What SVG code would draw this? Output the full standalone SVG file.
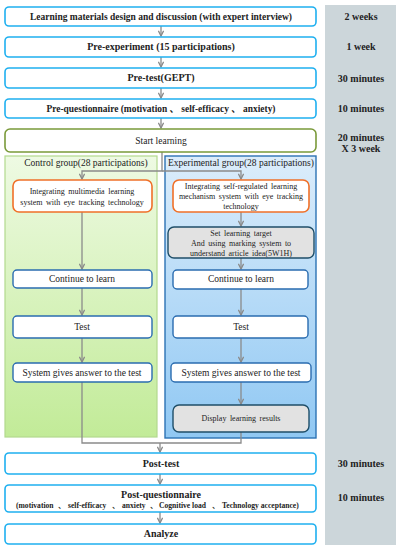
<svg xmlns="http://www.w3.org/2000/svg" width="400" height="550" viewBox="0 0 400 550">
<defs>
<linearGradient id="gGreen" x1="0" y1="0" x2="0" y2="1"><stop offset="0" stop-color="#eefae3"/><stop offset="1" stop-color="#c2eb98"/></linearGradient>
<linearGradient id="gBlue" x1="0" y1="0" x2="0" y2="1"><stop offset="0" stop-color="#dcedfb"/><stop offset="1" stop-color="#90c8f3"/></linearGradient>
<marker id="ah" viewBox="0 0 10 10" refX="9" refY="5" markerWidth="5" markerHeight="5" orient="auto"><path d="M1,1 L9,5 L1,9" fill="none" stroke="#8a8a8a" stroke-width="2"/></marker>
</defs>
<style>
.top{fill:#fff;stroke:#1fb0f0;stroke-width:1.6}
.start{fill:#fff;stroke:#7a9a3a;stroke-width:1.6}
.orange{fill:#fff;stroke:#f07028;stroke-width:1.6}
.wb{fill:#fff;stroke:#2a6cb0;stroke-width:1.4}
.gb{fill:#e2e2e2;stroke:#1f4e68;stroke-width:1.4}
.tb{font-family:"Liberation Serif","Times New Roman","Noto Sans CJK SC",serif;font-weight:bold;font-size:10px;fill:#222;text-anchor:middle}
.tq{font-family:"Liberation Serif","Times New Roman","Noto Sans CJK SC",serif;font-weight:bold;font-size:7.6px;fill:#222;text-anchor:start}
.tr{font-family:"Liberation Serif","Times New Roman","Noto Sans CJK SC",serif;font-size:9.5px;fill:#222;text-anchor:middle}
.ts{font-family:"Liberation Serif","Times New Roman","Noto Sans CJK SC",serif;font-size:8px;fill:#222;text-anchor:middle;word-spacing:1.5px}
.time{font-family:"Liberation Serif","Times New Roman",serif;font-weight:bold;font-size:10px;fill:#222;text-anchor:middle}
.conn{fill:none;stroke:#8a8a8a;stroke-width:1.3}
</style>
<rect id="timeline" x="325" y="5" width="71" height="540" fill="#ccd6da"/>
<g id="times">
<text class="time" x="361" y="20">2 weeks</text>
<text class="time" x="361" y="50">1 week</text>
<text class="time" x="361" y="82">30 minutes</text>
<text class="time" x="361" y="112">10 minutes</text>
<text class="time" x="361" y="141">20 minutes</text>
<text class="time" x="361" y="152">X 3 week</text>
<text class="time" x="361" y="467">30 minutes</text>
<text class="time" x="361" y="501">10 minutes</text>
</g>
<g id="control-panel"><rect x="5" y="156" width="152" height="281" fill="url(#gGreen)" stroke="#b2d98e" stroke-width="1.2"/>
<text class="tr" x="86" y="166" font-size="10">Control group(28 participations)</text></g>
<g id="exp-panel"><rect x="165" y="156" width="151" height="282" fill="url(#gBlue)" stroke="#2c72b4" stroke-width="1.4"/>
<text class="tr" x="241" y="166" font-size="10" textLength="146" lengthAdjust="spacingAndGlyphs">Experimental  group(28 participations)</text></g>
<g id="connectors">
<line class="conn" x1="161" y1="26" x2="161" y2="36" marker-end="url(#ah)"/>
<line class="conn" x1="161" y1="57" x2="161" y2="67" marker-end="url(#ah)"/>
<line class="conn" x1="161" y1="88" x2="161" y2="98" marker-end="url(#ah)"/>
<line class="conn" x1="161" y1="118" x2="161" y2="128" marker-end="url(#ah)"/>
<polyline class="conn" points="162,152 162,171 82,171 82,179" marker-end="url(#ah)"/>
<polyline class="conn" points="162,171 241,171 241,179" marker-end="url(#ah)"/>
<line class="conn" x1="82" y1="212" x2="82" y2="269" marker-end="url(#ah)"/>
<line class="conn" x1="82" y1="288" x2="82" y2="315" marker-end="url(#ah)"/>
<line class="conn" x1="82" y1="338" x2="82" y2="362" marker-end="url(#ah)"/>
<line class="conn" x1="241" y1="212" x2="241" y2="226" marker-end="url(#ah)"/>
<line class="conn" x1="241" y1="258" x2="241" y2="269" marker-end="url(#ah)"/>
<line class="conn" x1="241" y1="289" x2="241" y2="315" marker-end="url(#ah)"/>
<line class="conn" x1="241" y1="338" x2="241" y2="362" marker-end="url(#ah)"/>
<line class="conn" x1="241" y1="382" x2="241" y2="404" marker-end="url(#ah)"/>
<polyline class="conn" points="82,382 82,443 241,443 241,432"/>
<line class="conn" x1="160" y1="443" x2="160" y2="452" marker-end="url(#ah)"/>
<line class="conn" x1="160" y1="474" x2="160" y2="484" marker-end="url(#ah)"/>
<line class="conn" x1="160" y1="512" x2="160" y2="523" marker-end="url(#ah)"/>
</g>
<g id="n1"><rect class="top" x="5" y="7" width="311" height="19" rx="4"/><text class="tb" x="161" y="20" textLength="262" lengthAdjust="spacingAndGlyphs">Learning materials design and discussion (with expert interview)</text></g>
<g id="n2"><rect class="top" x="5" y="37" width="311" height="20" rx="4"/><text class="tb" x="161" y="50">Pre-experiment (15 participations)</text></g>
<g id="n3"><rect class="top" x="5" y="68" width="311" height="20" rx="4"/><text class="tb" x="161" y="81">Pre-test(GEPT)</text></g>
<g id="n4"><rect class="top" x="5" y="99" width="311" height="19" rx="4"/><text class="tb" x="161" y="112" textLength="229" lengthAdjust="spacingAndGlyphs">Pre-questionnaire (motivation 、 self-efficacy 、 anxiety)</text></g>
<g id="n5"><rect class="start" x="5" y="129" width="311" height="23" rx="5"/><text class="tr" x="161" y="144">Start learning</text></g>
<g id="c1"><rect class="orange" x="13" y="180" width="139" height="32" rx="6"/><text class="ts" x="82" y="194">Integrating  multimedia  learning</text><text class="ts" x="82" y="205">system  with  eye  tracking  technology</text></g>
<g id="c2"><rect class="wb" x="13" y="270" width="139" height="18" rx="4"/><text class="tr" x="82" y="282">Continue to learn</text></g>
<g id="c3"><rect class="wb" x="13" y="316" width="139" height="22" rx="4" stroke="#4a6c8e"/><text class="tr" x="82" y="330">Test</text></g>
<g id="c4"><rect class="wb" x="13" y="363" width="139" height="19" rx="4"/><text class="tr" x="82" y="376">System gives answer to the test</text></g>
<g id="e1"><rect class="orange" x="173" y="180" width="136" height="32" rx="6"/><text class="ts" x="241" y="189">Integrating  self-regulated  learning</text><text class="ts" x="241" y="199">mechanism  system  with  eye  tracking</text><text class="ts" x="241" y="209">technology</text></g>
<g id="e2"><rect class="gb" x="168" y="227" width="146" height="31" rx="6"/><text class="ts" x="241" y="236">Set learning  target</text><text class="ts" x="241" y="246">And using  marking  system to</text><text class="ts" x="241" y="256">understand  article  idea(5W1H)</text></g>
<g id="e3"><rect class="wb" x="173" y="270" width="135" height="19" rx="4"/><text class="tr" x="241" y="282">Continue to learn</text></g>
<g id="e4"><rect class="wb" x="173" y="316" width="135" height="22" rx="4" stroke="#4a6c8e"/><text class="tr" x="241" y="330">Test</text></g>
<g id="e5"><rect class="wb" x="171" y="363" width="140" height="19" rx="4"/><text class="tr" x="241" y="376">System gives answer to the test</text></g>
<g id="e6"><rect class="gb" x="173" y="405" width="136" height="27" rx="6"/><text class="ts" x="241" y="421">Display  learning  results</text></g>
<g id="n6"><rect class="top" x="5" y="453" width="311" height="21" rx="4"/><text class="tb" x="161" y="467">Post-test</text></g>
<g id="n7"><rect class="top" x="5" y="485" width="311" height="27" rx="4"/><text class="tb" x="161" y="498" font-size="12">Post-questionnaire</text>
<text class="tq" y="508"><tspan x="16">(motivation</tspan><tspan x="58">、</tspan><tspan x="68">self-efficacy</tspan><tspan x="112">、</tspan><tspan x="122">anxiety</tspan><tspan x="150">、</tspan><tspan x="159">Cognitive load</tspan><tspan x="212">、</tspan><tspan x="222">Technology acceptance)</tspan></text></g>
<g id="n8"><rect class="top" x="5" y="524" width="311" height="20" rx="4"/><text class="tb" x="161" y="537">Analyze</text></g>
</svg>
